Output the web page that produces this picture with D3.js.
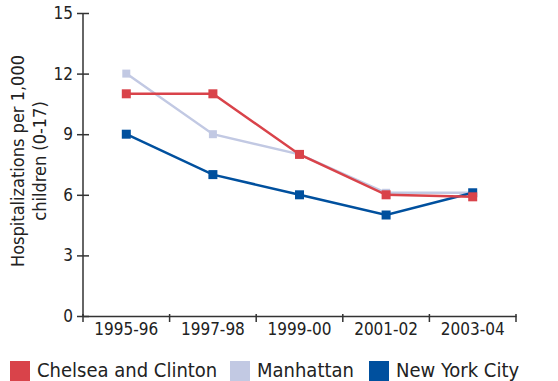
<!DOCTYPE html>
<html><head><meta charset="utf-8">
<script src="https://cdn.jsdelivr.net/npm/d3@7"></script>
<style>body{margin:0;background:#fff}svg{display:block}text{font-family:"DejaVu Sans Condensed","DejaVu Sans",sans-serif;fill:#222}</style>
</head><body><svg id="c" width="558" height="381"></svg>
<script>
const categories = ["1995-96","1997-98","1999-00","2001-02","2003-04"];
const chelsea = [11, 11, 8, 6, 5.9];
const manhattan = [12, 9, 8, 6.1, 6.1];
const nyc = [9, 7, 6, 5, 6.1];
const yTicks = [0,3,6,9,12,15];
const seriesNames = ["Chelsea and Clinton","Manhattan","New York City"];
const colors = ["#d9434a","#c2c9e3","#00509e"];

const svg = d3.select("#c");
const m = {l:83, r:42, t:13, b:65};
const W = 558, H = 381;
const x = d3.scaleBand().domain(categories).range([m.l, W-m.r]);
const y = d3.scaleLinear().domain([0,15]).range([H-m.b, m.t]);

const xa = svg.append("g").attr("transform",`translate(0,${H-m.b})`)
  .call(d3.axisBottom(x).tickSize(0).tickPadding(7));
xa.select(".domain").attr("stroke","#333").attr("stroke-width",1.5);
xa.selectAll("text").attr("font-size",17).attr("fill","#222");
const bounds = categories.map(c=>x(c)).concat([x(categories[categories.length-1])+x.bandwidth()]);
svg.append("g").selectAll("line").data(bounds).join("line")
  .attr("x1",d=>d).attr("x2",d=>d).attr("y1",H-m.b-2).attr("y2",H-m.b+6)
  .attr("stroke","#333").attr("stroke-width",1.5);

const ya = svg.append("g").attr("transform",`translate(${m.l},0)`)
  .call(d3.axisLeft(y).tickValues(yTicks).tickSize(6).tickPadding(4));
ya.select(".domain").attr("stroke","#333").attr("stroke-width",1.5).attr("d",`M0,${y(15)}V${y(0)}`);
ya.selectAll(".tick line").attr("x1",6).attr("x2",-6).attr("stroke","#333").attr("stroke-width",1.5);
ya.selectAll("text").attr("font-size",17).attr("fill","#222");

const yl = svg.append("text").attr("transform","translate(24,161) rotate(-90)")
  .attr("text-anchor","middle").attr("font-size",18);
yl.append("tspan").attr("x",0).attr("dy",0).text("Hospitalizations per 1,000");
yl.append("tspan").attr("x",0).attr("dy",22).text("children (0-17)");

const cx = c => x(c) + x.bandwidth()/2;
const line = d3.line().x((d,i)=>cx(categories[i])).y(d=>y(d));
const order = [[manhattan,1,8],[nyc,2,9],[chelsea,0,9]];
order.forEach(([vals,ci,sz])=>{
  svg.append("path").datum(vals).attr("d",line).attr("fill","none")
    .attr("stroke",colors[ci]).attr("stroke-width",2.5);
  svg.append("g").selectAll("rect").data(vals).join("rect")
    .attr("x",(d,i)=>cx(categories[i])-sz/2).attr("y",d=>y(d)-sz/2)
    .attr("width",sz).attr("height",sz).attr("fill",colors[ci]);
});

const legX = [10, 230, 369];
const lg = svg.append("g");
seriesNames.forEach((n,i)=>{
  lg.append("rect").attr("x",legX[i]).attr("y",361).attr("width",20).attr("height",20).attr("fill",colors[i]);
  lg.append("text").attr("x",legX[i]+27).attr("y",377).attr("font-size",20).text(n);
});
</script></body></html>
